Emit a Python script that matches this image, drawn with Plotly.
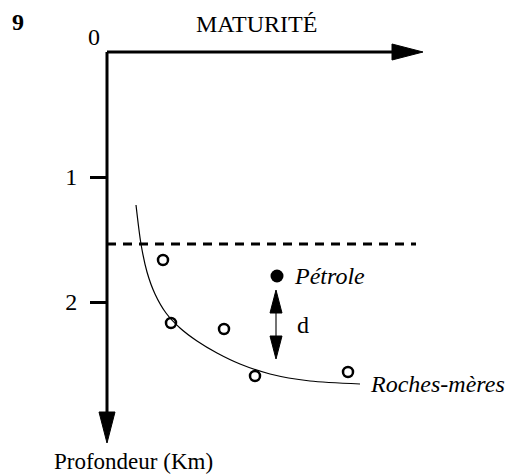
import plotly.graph_objects as go

# ---- data (diagram units; depth positive downward) ----
curve_x = [0.232, 0.272, 0.32, 0.384, 0.472, 0.584, 0.72, 0.88, 1.064, 1.304, 1.624, 2.024]
curve_y = [1.224, 1.536, 1.76, 1.936, 2.088, 2.208, 2.312, 2.408, 2.496, 2.576, 2.632, 2.656]
rock_x = [0.448, 0.512, 0.936, 1.184, 1.928]
rock_y = [1.664, 2.168, 2.216, 2.592, 2.56]
oil_x = [1.36]
oil_y = [1.792]
d_x = 1.352
d_top, d_bottom = 1.904, 2.456
dash_depth = 1.536
dash_end = 2.472
depth_ticks = [1, 2]
depth_labels = ["1", "2"]
x_axis_end = 2.528   # arrow tip of maturity axis
y_axis_end = 3.128   # arrow tip of depth axis

X_RANGE = [-0.856, 3.256]
Y_RANGE = [3.392, -0.416]
FONT = "Liberation Serif"
FS = 24

fig = go.Figure()

# source-rock curve
fig.add_trace(go.Scatter(x=curve_x, y=curve_y, mode="lines",
                         line=dict(color="black", width=1.2, shape="spline", smoothing=0.8),
                         hoverinfo="skip"))

# dashed line
fig.add_trace(go.Scatter(x=[0, dash_end], y=[dash_depth, dash_depth], mode="lines",
                         line=dict(color="black", width=3, dash="9px,7px"), hoverinfo="skip"))

# axes lines
head_len, head_half = 0.248, 0.064
fig.add_trace(go.Scatter(x=[0, x_axis_end - head_len], y=[0, 0], mode="lines",
                         line=dict(color="black", width=3), hoverinfo="skip"))
fig.add_trace(go.Scatter(x=[0, 0], y=[0, y_axis_end - head_len], mode="lines",
                         line=dict(color="black", width=3), hoverinfo="skip"))
# arrowheads
fig.add_trace(go.Scatter(x=[x_axis_end - head_len, x_axis_end, x_axis_end - head_len, x_axis_end - head_len],
                         y=[-head_half, 0, head_half, -head_half], mode="lines", fill="toself",
                         fillcolor="black", line=dict(color="black", width=1), hoverinfo="skip"))
fig.add_trace(go.Scatter(x=[-head_half, 0, head_half, -head_half],
                         y=[y_axis_end - head_len, y_axis_end, y_axis_end - head_len, y_axis_end - head_len],
                         mode="lines", fill="toself", fillcolor="black",
                         line=dict(color="black", width=1), hoverinfo="skip"))

# double arrow d
dh_len, dh_half = 0.184, 0.048
fig.add_trace(go.Scatter(x=[d_x, d_x], y=[d_top + dh_len, d_bottom - dh_len], mode="lines",
                         line=dict(color="#444444", width=1.5), hoverinfo="skip"))
fig.add_trace(go.Scatter(x=[d_x - dh_half, d_x, d_x + dh_half, d_x - dh_half],
                         y=[d_top + dh_len, d_top, d_top + dh_len, d_top + dh_len],
                         mode="lines", fill="toself", fillcolor="black",
                         line=dict(color="black", width=1), hoverinfo="skip"))
fig.add_trace(go.Scatter(x=[d_x - dh_half, d_x, d_x + dh_half, d_x - dh_half],
                         y=[d_bottom - dh_len, d_bottom, d_bottom - dh_len, d_bottom - dh_len],
                         mode="lines", fill="toself", fillcolor="black",
                         line=dict(color="black", width=1), hoverinfo="skip"))

# source rock points
fig.add_trace(go.Scatter(x=rock_x, y=rock_y, mode="markers",
                         marker=dict(symbol="circle-open", size=10, color="black", line=dict(width=2.5)),
                         hoverinfo="skip"))
# oil point
fig.add_trace(go.Scatter(x=oil_x, y=oil_y, mode="markers",
                         marker=dict(symbol="circle", size=13, color="black"), hoverinfo="skip"))

ann = [
    dict(x=oil_x[0] + 0.12, y=oil_y[0], text="<i>Pétrole</i>", xanchor="left", yanchor="middle"),
    dict(x=d_x + 0.15, y=(d_top + d_bottom) / 2, text="d", xanchor="left", yanchor="middle"),
    dict(x=curve_x[-1] + 0.064, y=curve_y[-1], text="<i>Roches-mères</i>", xanchor="left",
         yanchor="middle"),
    dict(x=-0.108, y=-0.124, text="0", xanchor="center", yanchor="middle"),
    dict(x=1.192, y=-0.224, text="MATURITÉ", xanchor="center", yanchor="middle"),
    dict(x=-0.712, y=-0.24, text="<b>9</b>", xanchor="center", yanchor="middle"),
    dict(x=0.208, y=3.272, text="Profondeur (Km)", xanchor="center", yanchor="middle"),
]
for a in ann:
    a["showarrow"] = False
    a["font"] = dict(family=FONT, size=FS, color="black")
ann[-1]["font"]["size"] = 23

y_pos = (0 - X_RANGE[0]) / (X_RANGE[1] - X_RANGE[0])

fig.update_layout(
    width=514, height=476,
    margin=dict(l=0, r=0, t=0, b=0),
    paper_bgcolor="white", plot_bgcolor="white",
    showlegend=False,
    annotations=ann,
    xaxis=dict(range=X_RANGE, visible=False, fixedrange=True),
    yaxis=dict(range=Y_RANGE, anchor="free", position=y_pos, showgrid=False, zeroline=False,
               showline=False, tickvals=depth_ticks, ticktext=depth_labels, ticks="outside",
               ticklen=17, tickwidth=2.5, tickcolor="black", ticklabelstandoff=8,
               tickfont=dict(family=FONT, size=FS, color="black"), fixedrange=True),
)

fig.write_html("out.html", config={"displayModeBar": False},
               post_script="document.body.style.margin='0px';")
